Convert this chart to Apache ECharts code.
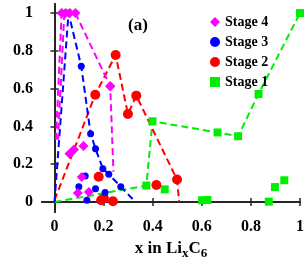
<!DOCTYPE html>
<html><head><meta charset="utf-8">
<script src="https://cdn.jsdelivr.net/npm/echarts@6/dist/echarts.min.js"></script>
<style>html,body{margin:0;padding:0;background:#fff}#c{width:304px;height:259px}</style>
</head><body><div id="c"></div>
<script>
// ---- data ----
const xTicks = [0, 0.2, 0.4, 0.6, 0.8, 1];
const yTicks = [0, 0.2, 0.4, 0.6, 0.8, 1];
const legendNames = ['Stage 4', 'Stage 3', 'Stage 2', 'Stage 1'];

// Stage 4 (magenta diamonds)
const s4LineA = [[0.006, 0.33], [0.029, 1.0]];
const s4LineB = [[0.040, 1.0], [0.014, 0.33]];
const s4LineC = [[0.085, 1.0], [0.227, 0.612], [0.240, 0.16]];
const s4Points = [[0.029, 1.0], [0.045, 1.0], [0.062, 1.0], [0.085, 1.0], [0.227, 0.612],
  [0.061, 0.255], [0.070, 0.265], [0.079, 0.278], [0.118, 0.296],
  [0.111, 0.132], [0.095, 0.047], [0.140, 0.053]];

// Stage 3 (blue circles)
const s3Line = [[0.0, 0.0], [0.057, 1.0], [0.109, 0.718], [0.147, 0.361], [0.167, 0.282],
  [0.197, 0.176], [0.221, 0.147], [0.270, 0.081], [0.318, 0.016]];
const s3Points = [[0.125, 0.137], [0.099, 0.081], [0.132, 0.009], [0.167, 0.070], [0.206, 0.050]];

// Stage 2 (red circles)
const s2Line = [[0.0, 0.01], [0.166, 0.568], [0.249, 0.778], [0.299, 0.466], [0.333, 0.563],
  [0.499, 0.119], [0.508, 0.0]];
const s2Points = [[0.180, 0.134], [0.190, 0.009], [0.201, 0.020], [0.238, 0.004], [0.415, 0.090]];

// Stage 1 (green squares)
const s1Line = [[0.0, 0.0], [0.374, 0.087], [0.399, 0.427], [0.664, 0.368], [0.748, 0.348],
  [0.831, 0.572], [1.0, 1.0]];
const s1Points = [[0.449, 0.067], [0.601, 0.009], [0.623, 0.011], [0.873, 0.002], [0.898, 0.079], [0.936, 0.115]];

// ---- chart ----
const FONT = 'Liberation Serif';
const C4 = '#ff00ff', C3 = '#0000ff', C2 = '#ff0000', C1 = '#00ee00';
const chart = echarts.init(document.getElementById('c'), null, {renderer: 'canvas'});

function lineSeries(name, data, color, symbol, size, noMarkAt) {
  return {
    name: name, type: 'line', data: data.map((d, i) => (noMarkAt.indexOf(i) >= 0 ? {value: d, symbol: 'none'} : {value: d})),
    symbol: symbol, symbolSize: size, showSymbol: true, showAllSymbol: true,
    lineStyle: {color: color, width: 2, type: [7, 4]},
    itemStyle: {color: color}, z: 2, silent: true
  };
}
function pointSeries(name, data, color, symbol, size) {
  return {name: name, type: 'scatter', data: data, symbol: symbol, symbolSize: size,
    itemStyle: {color: color, opacity: 1}, z: 3, silent: true};
}

const axisLineStyle = {show: true, lineStyle: {color: '#262626', width: 2}};
const tickInside = {show: true, inside: true, length: 4, lineStyle: {color: '#262626', width: 1.5}};

chart.setOption({
  animation: false,
  grid: {left: 42, top: 4, width: 258, height: 208, containLabel: false, outerBoundsMode: 'none'},
  legend: {
    data: legendNames.map((n, i) => ({name: n, icon: ['diamond', 'circle', 'circle', 'rect'][i]})),
    orient: 'vertical', left: 205, top: 10, itemWidth: 10, itemHeight: 10, itemGap: 6,
    textStyle: {fontFamily: FONT, fontWeight: 'bold', fontSize: 14, color: '#000'},
    selectedMode: false
  },
  xAxis: [{
    type: 'value', min: -0.051, max: 1.0, position: 'bottom',
    axisLine: axisLineStyle,
    axisTick: Object.assign({customValues: xTicks}, tickInside),
    axisLabel: {customValues: xTicks, formatter: v => String(+v.toFixed(1)),
      fontFamily: FONT, fontWeight: 'bold', fontSize: 16, color: '#000', margin: 7},
    splitLine: {show: false},
    name: '{n|x in Li}{s|x}{n|C}{s|6}', nameLocation: 'middle', nameGap: 22,
    nameTextStyle: {rich: {
      n: {fontFamily: FONT, fontWeight: 'bold', fontSize: 17, color: '#000'},
      s: {fontFamily: FONT, fontWeight: 'bold', fontSize: 13, color: '#000', verticalAlign: 'bottom', padding: [10, 0, 0, 0]}
    }}
  }, {
    type: 'value', min: -0.051, max: 1.0, position: 'top',
    axisLine: axisLineStyle,
    axisTick: Object.assign({customValues: xTicks}, tickInside),
    axisLabel: {show: false}, splitLine: {show: false}
  }],
  yAxis: [{
    type: 'value', min: -0.053, max: 1.048, position: 'left',
    axisLine: axisLineStyle,
    axisTick: Object.assign({customValues: yTicks}, tickInside),
    axisLabel: {customValues: yTicks, formatter: v => String(+v.toFixed(1)),
      fontFamily: FONT, fontWeight: 'bold', fontSize: 16, color: '#000', margin: 9},
    splitLine: {show: false},
    name: 'Confidence value', nameLocation: 'middle', nameGap: 28,
    nameTextStyle: {fontFamily: FONT, fontWeight: 'bold', fontSize: 19, color: '#000'}
  }, {
    type: 'value', min: -0.053, max: 1.048, position: 'right',
    axisLine: axisLineStyle,
    axisTick: Object.assign({customValues: yTicks}, tickInside),
    axisLabel: {show: false}, splitLine: {show: false}
  }],
  graphic: [{
    type: 'text', left: 128, top: 17,
    style: {text: '(a)', fontFamily: FONT, fontWeight: 'bold', fontSize: 17, fill: '#000'}
  }],
  series: [
    lineSeries('s1line', s1Line, C1, 'rect', 8, [0]),
    pointSeries('Stage 1', s1Points, C1, 'rect', 8),
    lineSeries('s2line', s2Line, C2, 'circle', 10, [0, 6]),
    pointSeries('Stage 2', s2Points, C2, 'circle', 10),
    lineSeries('s3line', s3Line, C3, 'circle', 7, [0, 8]),
    pointSeries('Stage 3', s3Points, C3, 'circle', 7),
    lineSeries('s4lineA', s4LineA, C4, 'diamond', 10, [0, 1]),
    lineSeries('s4lineB', s4LineB, C4, 'diamond', 10, [0, 1]),
    lineSeries('s4lineC', s4LineC, C4, 'diamond', 10, [0, 2]),
    pointSeries('Stage 4', s4Points, C4, 'diamond', 10)
  ]
});
</script></body></html>
